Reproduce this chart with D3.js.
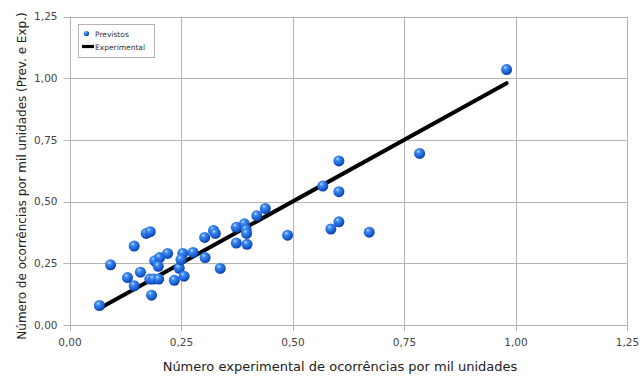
<!DOCTYPE html>
<html>
<head>
<meta charset="utf-8">
<script src="https://cdn.jsdelivr.net/npm/d3@7"></script>
<style>
  html, body { margin: 0; padding: 0; background: #fff; }
  svg { display: block; }
</style>
</head>
<body>
<svg id="chart" width="640" height="376"></svg>
<script>
// Experimental (x) vs. predicted (y) occurrences per thousand units
const previstosX = [0.067, 0.092, 0.145, 0.172, 0.181, 0.130, 0.159, 0.145, 0.184, 0.180,
                    0.188, 0.200, 0.191, 0.202, 0.220, 0.199, 0.235, 0.246, 0.257, 0.254,
                    0.250, 0.277, 0.303, 0.323, 0.327, 0.304, 0.338, 0.374, 0.392, 0.396,
                    0.397, 0.374, 0.398, 0.420, 0.439, 0.489, 0.568, 0.604, 0.604, 0.586,
                    0.604, 0.672, 0.785, 0.980];
const previstosY = [0.079, 0.244, 0.320, 0.371, 0.378, 0.192, 0.214, 0.159, 0.121, 0.186,
                    0.186, 0.186, 0.260, 0.273, 0.290, 0.238, 0.181, 0.230, 0.198, 0.290,
                    0.265, 0.294, 0.355, 0.383, 0.371, 0.273, 0.229, 0.396, 0.410, 0.386,
                    0.371, 0.332, 0.327, 0.443, 0.472, 0.364, 0.563, 0.665, 0.540, 0.389,
                    0.418, 0.376, 0.695, 1.035];
// Experimental reference line (y = x over the observed range)
const experimentalX = [0.07, 0.98];
const experimentalY = [0.07, 0.98];

const tickValues = [0, 0.25, 0.5, 0.75, 1.0, 1.25];
const tickLabels = ["0,00", "0,25", "0,50", "0,75", "1,00", "1,25"];
const seriesNames = ["Previstos", "Experimental"];
const xTitle = "Número experimental de ocorrências por mil unidades";
const yTitle = "Número de ocorrências por mil unidades (Prev. e Exp.)";

const svg = d3.select("#chart");
const plotL = 69.5, plotR = 627, plotT = 16.5, plotB = 325;
const x = d3.scaleLinear().domain([0, 1.25]).range([plotL, plotR]);
const y = d3.scaleLinear().domain([0, 1.25]).range([plotB, plotT]);
const font = "'DejaVu Sans', sans-serif";

// sphere-like shading for the markers
const defs = svg.append("defs");
const grad = defs.append("radialGradient").attr("id", "ball")
  .attr("cx", "0.38").attr("cy", "0.32").attr("r", "0.7");
grad.append("stop").attr("offset", "0%").attr("stop-color", "#bfe0ff");
grad.append("stop").attr("offset", "25%").attr("stop-color", "#3f8cf0");
grad.append("stop").attr("offset", "70%").attr("stop-color", "#1a5ed6");
grad.append("stop").attr("offset", "100%").attr("stop-color", "#0d3a9a");

// grid, with short tick stubs outside the plot
const grid = svg.append("g");
grid.selectAll(".gx").data(tickValues).join("line")
  .attr("x1", d => Math.round(x(d)) + 0.5).attr("x2", d => Math.round(x(d)) + 0.5)
  .attr("y1", plotT).attr("y2", plotB + 6)
  .attr("stroke", "#b4b4b4").attr("stroke-width", 1);
grid.selectAll(".gy").data(tickValues).join("line")
  .attr("y1", d => Math.round(y(d)) + 0.5).attr("y2", d => Math.round(y(d)) + 0.5)
  .attr("x1", plotL - 6).attr("x2", plotR)
  .attr("stroke", "#b4b4b4").attr("stroke-width", 1);

// tick labels via d3 axes (domain/ticks hidden, grid drawn above)
const xAxis = d3.axisBottom(x).tickValues(tickValues)
  .tickFormat((d, i) => tickLabels[i]).tickSize(0).tickPadding(14);
const yAxis = d3.axisLeft(y).tickValues(tickValues)
  .tickFormat((d, i) => tickLabels[i]).tickSize(0).tickPadding(12);
const gx = svg.append("g").attr("transform", `translate(0,${plotB})`).call(xAxis);
const gy = svg.append("g").attr("transform", `translate(${plotL},0)`).call(yAxis);
[gx, gy].forEach(g => {
  g.select(".domain").remove();
  g.selectAll("text").attr("font-family", font).attr("font-size", 10.5).attr("fill", "#444");
});

// experimental line
const line = d3.line().x(d => x(d[0])).y(d => y(d[1]));
svg.append("path")
  .datum(experimentalX.map((v, i) => [v, experimentalY[i]]))
  .attr("d", line).attr("fill", "none")
  .attr("stroke", "#000").attr("stroke-width", 4).attr("stroke-linecap", "round");

// predicted points
svg.append("g").selectAll("circle")
  .data(previstosX.map((v, i) => [v, previstosY[i]]))
  .join("circle")
  .attr("cx", d => x(d[0])).attr("cy", d => y(d[1])).attr("r", 5.5)
  .attr("fill", "url(#ball)");

// axis titles
svg.append("text").attr("x", 340).attr("y", 371).attr("text-anchor", "middle")
  .attr("font-family", font).attr("font-size", 13).attr("fill", "#222").text(xTitle);
svg.append("text").attr("transform", "translate(26,176) rotate(-90)")
  .attr("text-anchor", "middle")
  .attr("font-family", font).attr("font-size", 12).attr("fill", "#222").text(yTitle);

// legend
const lg = svg.append("g");
lg.append("rect").attr("x", 78.5).attr("y", 24.5).attr("width", 76).attr("height", 33)
  .attr("fill", "#fff").attr("stroke", "#b4b4b4");
lg.append("circle").attr("cx", 86.5).attr("cy", 33.5).attr("r", 2.6).attr("fill", "url(#ball)");
lg.append("line").attr("x1", 82).attr("x2", 94).attr("y1", 46.5).attr("y2", 46.5)
  .attr("stroke", "#000").attr("stroke-width", 3.2);
lg.selectAll(".lt").data(seriesNames).join("text")
  .attr("x", 95).attr("y", (d, i) => 36.5 + i * 13)
  .attr("font-family", font).attr("font-size", 7.5).attr("fill", "#333").text(d => d);
</script>
</body>
</html>
